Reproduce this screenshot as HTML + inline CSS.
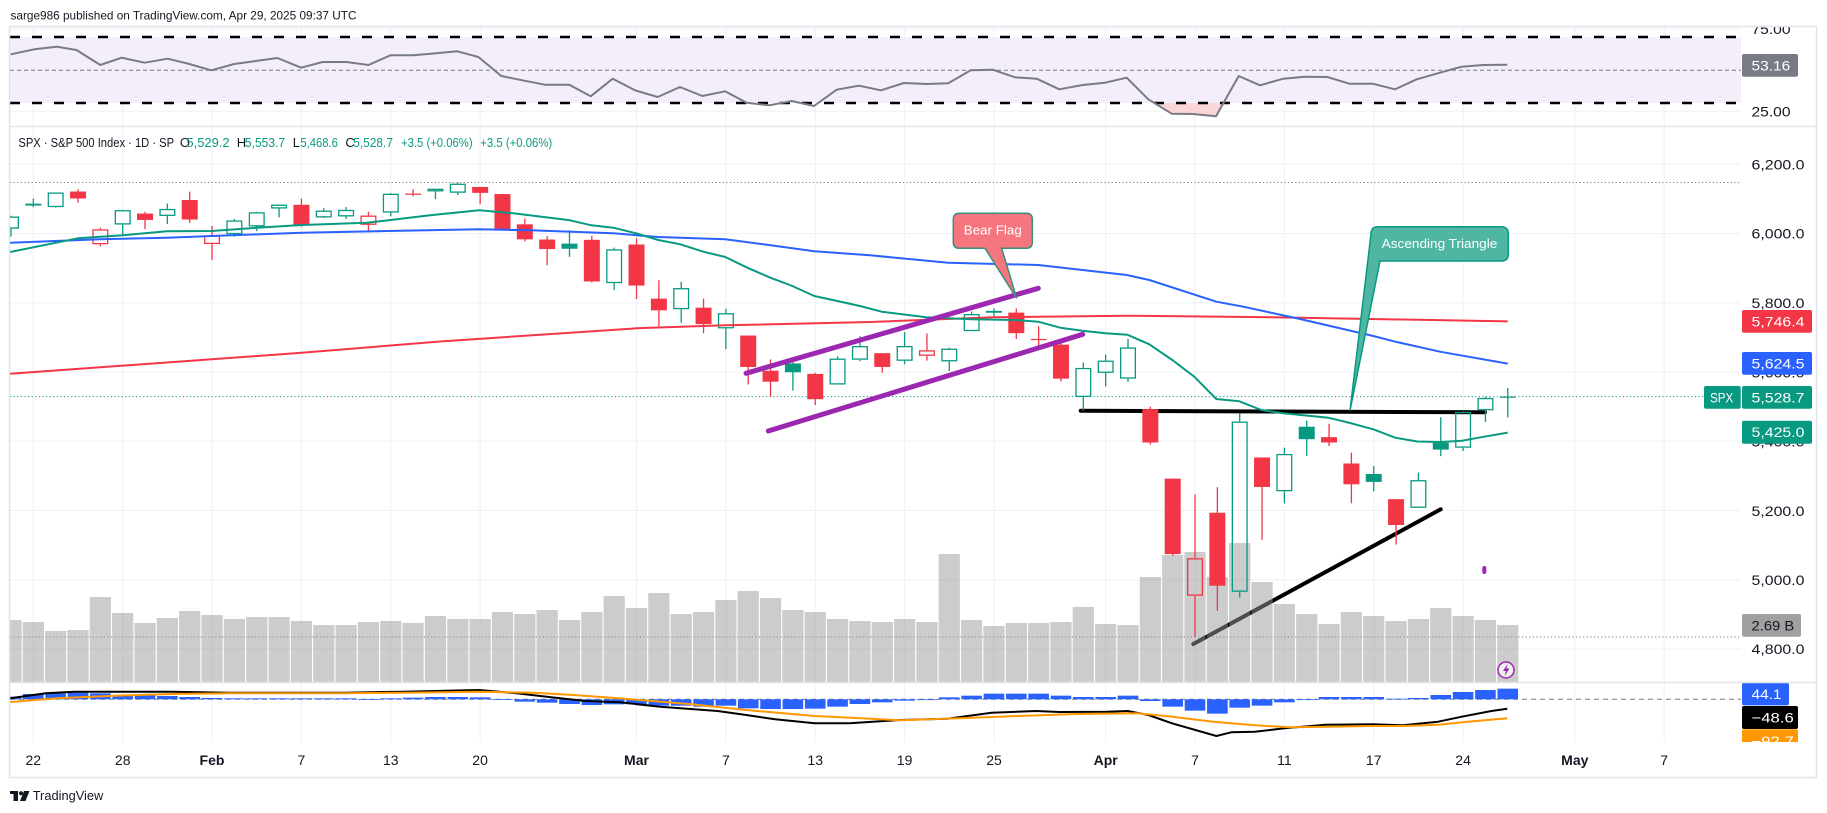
<!DOCTYPE html>
<html><head><meta charset="utf-8">
<style>
html,body{margin:0;padding:0;background:#fff;}
svg{display:block;}
text{font-family:"Liberation Sans",Arial,sans-serif;}
</style></head><body>
<svg id="c" width="1827" height="813" viewBox="0 0 1827 813" xmlns="http://www.w3.org/2000/svg">
<defs>
<clipPath id="cpP"><rect x="10" y="127" width="1731" height="555"/></clipPath>
<clipPath id="cpR"><rect x="10" y="27" width="1731" height="99"/></clipPath>
<clipPath id="cpM"><rect x="10" y="683" width="1731" height="59"/></clipPath>
<clipPath id="cpAx"><rect x="1700" y="27" width="116" height="715"/></clipPath>
</defs>
<rect width="1827" height="813" fill="#fff"/>

<!-- header -->
<text x="10.5" y="19.3" font-size="12" fill="#131722" textLength="346" lengthAdjust="spacingAndGlyphs">sarge986 published on TradingView.com, Apr 29, 2025 09:37 UTC</text>

<g id="grid"></g>

<!-- RSI pane -->
<g clip-path="url(#cpR)">
<rect x="10" y="37" width="1731" height="66" fill="#F3EEF9"/>
<polygon points="1154.3,103 1171.7,113.7 1193.3,114 1216,116.3 1223.5,103" fill="#FBD6D8"/>
<line x1="10" x2="1741" y1="37" y2="37" stroke="#000" stroke-width="2.5" stroke-dasharray="10 12"/>
<line x1="10" x2="1741" y1="103" y2="103" stroke="#000" stroke-width="2.5" stroke-dasharray="10 12"/>
<line x1="10" x2="1741" y1="70.3" y2="70.3" stroke="#787B86" stroke-width="1" stroke-dasharray="4 3"/>
<polyline fill="none" stroke="#787B86" stroke-width="2" stroke-linejoin="round" points="10.7,54.3 34.4,49.3 56.6,46.7 76.5,50 100.3,65 121.7,57.7 144.7,62.7 167.6,58.7 189.4,64 211.3,70.3 234.2,64 255.6,61 277.5,58 301.2,67.7 322.6,62 346.3,62 368.5,65 390.4,55.3 413.3,55.3 436.3,53.3 457.3,51.3 478.4,57 501.3,76 524.3,80.7 545,84.7 569.3,84.7 590.7,96.3 612.7,78.7 635,90.3 657.7,97 680,87 702.3,96 725,91.3 746.7,102.7 769.3,105.3 791.7,101 814,106 836.7,89.7 859,85.7 881,90.3 904,83 926.7,84 948.3,83.3 970.7,70.3 992.7,69.7 1015,77.3 1036.7,78.7 1059.3,89.3 1082.7,85 1105,82.7 1126.7,77.7 1148.3,99.3 1171.7,113.7 1193.3,114 1216,116.3 1238.7,76 1260,85.3 1283.3,78.7 1305,76.7 1327.3,77 1349.3,83.7 1372.7,83.7 1395,89.3 1416.7,79.3 1440,72.7 1461.7,66.7 1483.3,65 1507.3,64.7"/>
</g>

<!-- Price pane -->
<g clip-path="url(#cpP)">
<line x1="10" x2="1741" y1="182.5" y2="182.5" stroke="#787B86" stroke-width="1" stroke-dasharray="1.2 2.4"/>
<line x1="10" x2="1741" y1="637" y2="637" stroke="#787B86" stroke-width="1" stroke-dasharray="1.2 2.4"/>
<line x1="10" x2="1704" y1="396.6" y2="396.6" stroke="#089981" stroke-width="1" stroke-dasharray="1.2 2.4"/>
<!-- black drawings -->
<line x1="1080.7" y1="410.7" x2="1485" y2="412.3" stroke="#000" stroke-width="4" stroke-linecap="round"/>
<line x1="1193.3" y1="644" x2="1440.7" y2="509.3" stroke="#000" stroke-width="4" stroke-linecap="round"/>
<g id="vol"></g>
<g id="cand"></g>
<polyline fill="none" stroke="#F23645" stroke-width="2" points="10,373.7 211.7,359.3 301.7,352.7 440,341.5 636.3,328.3 725.3,325.3 870,322 993.3,317.3 1126.7,315.7 1226.7,316.7 1300,317.7 1507.7,321.4"/>
<polyline fill="none" stroke="#2962FF" stroke-width="2" stroke-linejoin="round" points="10,242.7 100,239.3 166.7,237.7 211.7,236 301.7,232.7 440,230 479.3,229.3 530,230.3 613.3,233.3 658.3,237 725.3,239.3 763.3,244.3 814.3,251.3 870,255.3 948.3,262.7 1038.3,265 1126.7,275 1149.3,280 1216.3,301.7 1243.3,306.7 1300,319 1373.3,336 1395.3,341.7 1440,351.7 1507.7,363.6"/>
<polyline fill="none" stroke="#089981" stroke-width="2" stroke-linejoin="round" points="10,252 78,238.3 122.7,235.3 166.7,231.3 211.7,231 256.7,227.7 301.7,225 366.7,222.7 390.7,220 430,215.3 479.3,210.3 513.3,213.3 570,220.3 591.3,225.3 613.3,227.7 636.3,233.3 658.3,240 680.3,244.3 703.3,251.7 725.3,257 747.3,267.7 770.3,277.7 792.3,286 814.3,296 837.3,301 860,306 881.7,311.7 926.3,317.3 971.3,319.3 1015.3,320 1038.3,321.7 1060.3,327.7 1082.3,330.7 1105.3,333.3 1127.3,334.7 1149.3,344.3 1172.3,360 1194.3,376.7 1216.3,399 1239.3,401.3 1261.3,410 1283.3,413.3 1306,415.5 1328.3,417.7 1350,423 1373.3,429.3 1395.3,437.7 1417.3,441.5 1440.3,442 1462.3,440.7 1484.3,436.7 1507.7,432.6"/>
<!-- purple flag channel -->
<line x1="746" y1="373.3" x2="1038.3" y2="288.3" stroke="#9C27B0" stroke-width="5" stroke-linecap="round"/>
<line x1="768.3" y1="431" x2="1082.7" y2="334.3" stroke="#9C27B0" stroke-width="5" stroke-linecap="round"/>
<!-- callouts -->
<path d="M959.3,213.3 H1026.3 Q1032.3,213.3 1032.3,219.3 V242.3 Q1032.3,248.3 1026.3,248.3 H1001.7 L1016.7,298.3 L985,248.3 H959.3 Q953.3,248.3 953.3,242.3 V219.3 Q953.3,213.3 959.3,213.3 Z" fill="#F5767F" stroke="#3A8E7E" stroke-width="1.5"/>
<text x="992.8" y="234.6" font-size="13" fill="#fff" text-anchor="middle" textLength="58" lengthAdjust="spacingAndGlyphs">Bear Flag</text>
<path d="M1378,226.7 H1501.3 Q1508.3,226.7 1508.3,233.7 V254 Q1508.3,261 1501.3,261 H1380 L1350,410.7 L1371,234 Q1371,226.7 1378,226.7 Z" fill="#50B6A4" stroke="#089981" stroke-width="1.5"/>
<text x="1439.5" y="247.8" font-size="13" fill="#fff" text-anchor="middle" textLength="115.6" lengthAdjust="spacingAndGlyphs">Ascending Triangle</text>
<!-- small markers -->
<rect x="1482.3" y="566" width="4" height="8" rx="2" fill="#9C27B0"/>
<circle cx="1506" cy="670" r="8" fill="#fff" fill-opacity="0.7" stroke="#9C27B0" stroke-width="1.5"/>
<path d="M1507.5,664 L1503,671 L1506,671 L1504.5,676.5 L1509.5,668.5 L1506.5,668.5 Z" fill="#9C27B0"/>
</g>

<!-- MACD pane -->
<g clip-path="url(#cpM)">
<line x1="10" x2="1741" y1="699.3" y2="699.3" stroke="#787B86" stroke-width="1" stroke-dasharray="5 4"/>
<g id="hist"></g>
<polyline fill="none" stroke="#000" stroke-width="2" stroke-linejoin="round" points="10.3,698.3 45.9,693.3 74.6,691.7 114.8,691.7 172.2,691.7 229.6,692.7 287,692.7 344.4,692.7 401.8,691.7 479.3,690 516.6,693.3 551.1,697.3 585.5,701 620,702.3 660.2,706.7 717.6,711 746.3,715 775,719.3 814.6,723.3 849.6,723.3 900,720 947.3,718.7 991.7,712.7 1036,711 1059.7,712 1107,711.7 1127.7,711 1148.4,715 1172,723.3 1216.4,736 1231.2,732.3 1254.8,731.7 1284.4,728.3 1325.8,724.7 1373.1,724.3 1402.7,725.3 1438.1,721.7 1461.8,716.7 1491.4,711 1507.3,708.7"/>
<polyline fill="none" stroke="#FF9800" stroke-width="2" stroke-linejoin="round" points="10.3,702 57.4,698.3 114.8,695.7 172.2,694 229.6,693.3 287,693.3 344.4,693.3 401.8,692.7 479.3,691.7 533.9,692.7 574,695 631.5,699.3 688.9,704 746.3,710 814.6,716 861.1,718.3 900,720.3 959.1,718.3 1018.3,716 1077.4,714 1136.5,713.3 1166.1,716 1213.4,721.7 1254.8,725.3 1290.3,727.3 1325.8,726.7 1373.1,726 1402.7,726 1438.1,724.7 1467.7,721.7 1507.3,718.3"/>
</g>

<!-- legend -->
<g font-size="13">
<text x="18.4" y="147" fill="#131722" textLength="155.7" lengthAdjust="spacingAndGlyphs">SPX · S&amp;P 500 Index · 1D · SP</text>
<text x="179.9" y="147" fill="#131722">O</text>
<text x="186.4" y="147" fill="#089981" textLength="43.2" lengthAdjust="spacingAndGlyphs">5,529.2</text>
<text x="236.8" y="147" fill="#131722">H</text>
<text x="244.9" y="147" fill="#089981" textLength="40.2" lengthAdjust="spacingAndGlyphs">5,553.7</text>
<text x="292.8" y="147" fill="#131722">L</text>
<text x="300.4" y="147" fill="#089981" textLength="37.5" lengthAdjust="spacingAndGlyphs">5,468.6</text>
<text x="345.4" y="147" fill="#131722">C</text>
<text x="353.2" y="147" fill="#089981" textLength="39.8" lengthAdjust="spacingAndGlyphs">5,528.7</text>
<text x="401" y="147" fill="#089981" textLength="71.6" lengthAdjust="spacingAndGlyphs">+3.5 (+0.06%)</text>
<text x="480.3" y="147" fill="#089981" textLength="71.9" lengthAdjust="spacingAndGlyphs">+3.5 (+0.06%)</text>
</g>

<!-- right axis labels -->
<g clip-path="url(#cpAx)" font-size="14" fill="#131722">
<text x="1751.5" y="34" textLength="39" lengthAdjust="spacingAndGlyphs">75.00</text>
<text x="1751.5" y="116.7" textLength="39" lengthAdjust="spacingAndGlyphs">25.00</text>
<text x="1751.5" y="169.3" textLength="53" lengthAdjust="spacingAndGlyphs">6,200.0</text>
<text x="1751.5" y="238.6" textLength="53" lengthAdjust="spacingAndGlyphs">6,000.0</text>
<text x="1751.5" y="307.8" textLength="53" lengthAdjust="spacingAndGlyphs">5,800.0</text>
<text x="1751.5" y="377.6" textLength="53" lengthAdjust="spacingAndGlyphs">5,600.0</text>
<text x="1751.5" y="446.7" textLength="53" lengthAdjust="spacingAndGlyphs">5,400.0</text>
<text x="1751.5" y="515.8" textLength="53" lengthAdjust="spacingAndGlyphs">5,200.0</text>
<text x="1751.5" y="585.1" textLength="53" lengthAdjust="spacingAndGlyphs">5,000.0</text>
<text x="1751.5" y="654" textLength="53" lengthAdjust="spacingAndGlyphs">4,800.0</text>

<rect x="1742" y="54" width="56" height="22.7" rx="2" fill="#787B86"/>
<text x="1751.5" y="70.4" fill="#fff" textLength="38.7" lengthAdjust="spacingAndGlyphs">53.16</text>
<rect x="1742" y="310" width="70" height="22.7" rx="2" fill="#F23645"/>
<text x="1751.5" y="326.4" fill="#fff" textLength="53" lengthAdjust="spacingAndGlyphs">5,746.4</text>
<rect x="1742" y="352" width="70" height="22.7" rx="2" fill="#2962FF"/>
<text x="1751.5" y="368.4" fill="#fff" textLength="53" lengthAdjust="spacingAndGlyphs">5,624.5</text>
<rect x="1704" y="386" width="36.7" height="22.7" rx="2" fill="#089981"/>
<text x="1710" y="402.4" fill="#fff" textLength="23.3" lengthAdjust="spacingAndGlyphs">SPX</text>
<rect x="1742" y="386" width="70" height="22.7" rx="2" fill="#089981"/>
<text x="1751.5" y="402.4" fill="#fff" textLength="53" lengthAdjust="spacingAndGlyphs">5,528.7</text>
<rect x="1742" y="420.7" width="70" height="23" rx="2" fill="#089981"/>
<text x="1751.5" y="437.2" fill="#fff" textLength="53" lengthAdjust="spacingAndGlyphs">5,425.0</text>
<rect x="1742" y="614" width="59" height="22.7" rx="2" fill="#A0A0A0"/>
<text x="1751.5" y="630.4" fill="#131722" textLength="42.7" lengthAdjust="spacingAndGlyphs">2.69 B</text>
<rect x="1742" y="682.7" width="47" height="22.7" rx="2" fill="#2962FF"/>
<text x="1751.5" y="699.1" fill="#fff" textLength="30" lengthAdjust="spacingAndGlyphs">44.1</text>
<rect x="1742" y="706" width="56" height="23" rx="2" fill="#000"/>
<text x="1751.5" y="722.5" fill="#fff" textLength="42.3" lengthAdjust="spacingAndGlyphs">−48.6</text>
<rect x="1742" y="729.3" width="56" height="23" rx="2" fill="#FF9800"/>
<text x="1751.5" y="745.8" fill="#fff" textLength="42.3" lengthAdjust="spacingAndGlyphs">−92.7</text>
</g>

<!-- time axis -->
<g font-size="14" fill="#131722" text-anchor="middle">
<text x="33.3" y="765">22</text>
<text x="122.7" y="765">28</text>
<text x="212" y="765" font-weight="bold">Feb</text>
<text x="301.4" y="765">7</text>
<text x="390.8" y="765">13</text>
<text x="480.1" y="765">20</text>
<text x="636.5" y="765" font-weight="bold">Mar</text>
<text x="725.9" y="765">7</text>
<text x="815.2" y="765">13</text>
<text x="904.6" y="765">19</text>
<text x="994" y="765">25</text>
<text x="1105.7" y="765" font-weight="bold">Apr</text>
<text x="1195" y="765">7</text>
<text x="1284.4" y="765">11</text>
<text x="1373.7" y="765">17</text>
<text x="1463.1" y="765">24</text>
<text x="1574.8" y="765" font-weight="bold">May</text>
<text x="1664.2" y="765">7</text>
</g>

<!-- frame & separators -->
<g stroke="#E0E3EB" fill="none">
<line x1="9" x2="1817" y1="26.5" y2="26.5" stroke-width="1.5"/>
<line x1="9" x2="1817" y1="126.5" y2="126.5" stroke-width="1.5"/>
<line x1="9" x2="1817" y1="682.5" y2="682.5" stroke-width="1.5"/>
<line x1="9" x2="1817" y1="777.5" y2="777.5" stroke-width="1.5"/>
<line x1="9.5" x2="9.5" y1="26" y2="778" stroke-width="1.5"/>
<line x1="1816.5" x2="1816.5" y1="26" y2="778" stroke-width="1.5"/>
</g>

<!-- footer logo -->
<g fill="#131722">
<rect x="10" y="791" width="8" height="3"/>
<rect x="13.5" y="791" width="4.5" height="10"/>
<circle cx="21" cy="793.3" r="2"/>
<polygon points="24,791 29.5,791 25.5,801 20,801"/>
<text x="32.7" y="800" font-size="13" textLength="70.6" lengthAdjust="spacingAndGlyphs">TradingView</text>
</g>
</svg>
<script>
(function(){
var NS="http://www.w3.org/2000/svg";
function el(p,t,a){var e=document.createElementNS(NS,t);for(var k in a)e.setAttribute(k,a[k]);p.appendChild(e);return e;}
function X(i){return 11+22.34*i;}
function Y(p){return 649-(p-4800)*0.34621;}
var gg=document.getElementById('grid');
[1,5,9,13,17,21,28,32,36,40,44,49,53,57,61,65,70,74].forEach(function(i){
  el(gg,'line',{x1:X(i),x2:X(i),y1:27,y2:742,stroke:'#EEF0F4','stroke-width':1});
});
for(var p=4800;p<=6200;p+=200){el(gg,'line',{x1:10,x2:1741,y1:Y(p),y2:Y(p),stroke:'#EEF0F4','stroke-width':1});}
el(gg,'line',{x1:10,x2:1741,y1:28.7,y2:28.7,stroke:'#EEF0F4','stroke-width':1});
el(gg,'line',{x1:10,x2:1741,y1:111.3,y2:111.3,stroke:'#EEF0F4','stroke-width':1});

var D=[
[6014.1,6051.5,5990.8,6049.2],[6081.4,6100.8,6076.1,6086.4],[6076.3,6118.7,6074.7,6118.7],[6121.4,6128.2,6088.7,6101.2],
[5969.0,6017.2,5962.9,6012.3],[6026.0,6069.1,5997.7,6067.7],[6057.7,6062.8,6013.0,6039.3],[6050.8,6086.6,6027.5,6071.2],
[6096.8,6120.9,6030.9,6040.5],[5969.7,6022.1,5923.9,5994.6],[5998.1,6042.5,5990.9,6037.9],[6020.5,6062.9,6007.1,6061.5],
[6072.2,6084.0,6046.8,6083.6],[6083.1,6101.3,6020.0,6026.0],[6046.4,6073.4,6044.8,6066.4],[6049.3,6076.3,6042.3,6068.5],
[6025.1,6063.0,6003.0,6052.0],[6060.6,6116.9,6050.0,6115.1],[6115.5,6127.5,6107.6,6114.6],[6121.6,6129.6,6099.5,6129.6],
[6117.8,6147.4,6111.2,6144.2],[6134.5,6134.5,6084.6,6117.5],[6114.1,6114.8,6008.6,6013.1],[6026.7,6043.7,5977.8,5983.3],
[5982.7,5992.7,5908.5,5955.3],[5970.9,6009.8,5932.7,5956.1],[5981.9,5993.7,5858.8,5861.6],[5856.7,5959.4,5837.7,5954.5],
[5968.3,5986.1,5810.9,5849.7],[5812.0,5865.1,5732.6,5778.2],[5781.4,5860.6,5742.4,5842.6],[5785.9,5812.1,5711.6,5738.5],
[5726.0,5783.0,5666.3,5770.2],[5705.4,5705.4,5564.0,5614.6],[5603.7,5636.3,5528.4,5572.1],[5624.8,5642.2,5546.1,5599.3],
[5594.5,5597.8,5504.7,5521.5],[5563.9,5645.3,5563.9,5638.9],[5635.6,5703.5,5631.1,5675.1],[5654.5,5654.5,5597.8,5614.7],
[5632.4,5715.3,5622.2,5675.3],[5646.9,5711.2,5632.9,5662.9],[5630.7,5670.8,5603.1,5667.6],[5718.1,5775.1,5718.1,5767.6],
[5776.0,5783.7,5759.6,5776.7],[5771.7,5783.6,5695.4,5712.2],[5695.6,5732.3,5670.9,5693.3],[5679.1,5685.9,5572.4,5580.9],
[5527.9,5627.6,5488.7,5611.9],[5597.5,5650.6,5558.5,5633.1],[5580.8,5695.3,5571.5,5671.0],[5492.9,5499.5,5390.8,5396.5],
[5292.1,5292.1,5069.9,5074.1],[4953.8,5246.6,4835.0,5062.3],[5193.6,5267.5,4910.4,4982.8],[4965.3,5481.3,4948.4,5456.9],
[5353.2,5353.2,5115.3,5268.1],[5255.6,5381.5,5220.8,5363.4],[5442.0,5459.5,5358.0,5406.0],[5412.0,5450.4,5386.4,5396.6],
[5335.8,5367.2,5220.8,5275.7],[5305.5,5328.3,5255.6,5282.7],[5232.9,5232.9,5101.6,5158.2],[5207.7,5309.6,5207.7,5287.8],
[5395.9,5469.7,5357.0,5375.9],[5381.4,5486.2,5372.0,5484.8],[5489.4,5528.1,5455.9,5525.2],[5529.2,5553.7,5468.6,5528.7]
];
var V=[620,622,631,630,597,613,623,618,611,615,619,617,617,621,625,625,622,621,623,616,619,619,612,614,610,620,612,596,608,593,614,612,600,591,598,610,612,619,621,622,619,622,554,620,626,623,623,622,607,624,625,577,555,552,577,543,582,604,614,624,612,616,621,619,608,616,620,625];
var H=[170,162,160,158,160,165,166,168,171,174,175,175,175,175,175,175,177,175,173,171,171,172,177,185,188,192,195,193,193,197,197,200,197,205,207,207,206,200,192,187,182,180,172,167,161,161,161,167,171,171,167,183,200,212,221,203,197,187,179,171,171,171,176,174,165,156,150,146];

var gv=document.getElementById('vol');
V.forEach(function(t,i){el(gv,'rect',{x:X(i)-10.6,y:t,width:21.2,height:682-t,fill:'#999','fill-opacity':0.5});});

var gc=document.getElementById('cand');
var G='#089981',R='#F23645',w=16;
D.forEach(function(d,i){
  var o=d[0],h=d[1],l=d[2],c=d[3];
  var pc=i?D[i-1][3]:5996.7;
  var col=c>=pc?G:R;
  var hollow=c>o;
  var x=X(i);
  var yt=Y(Math.max(o,c)), yb=Y(Math.min(o,c));
  var bh=Math.max(yb-yt,1.2);
  if(hollow){
    el(gc,'line',{x1:x,x2:x,y1:Y(h),y2:yt,stroke:col,'stroke-width':1.3});
    el(gc,'line',{x1:x,x2:x,y1:yt+bh,y2:Y(l),stroke:col,'stroke-width':1.3});
    el(gc,'rect',{x:x-w/2+0.65,y:yt+0.65,width:w-1.3,height:Math.max(bh-1.3,0.6),fill:'none',stroke:col,'stroke-width':1.3});
  } else {
    el(gc,'line',{x1:x,x2:x,y1:Y(h),y2:Y(l),stroke:col,'stroke-width':1.3});
    el(gc,'rect',{x:x-w/2,y:yt,width:w,height:bh,fill:col});
  }
});

var gh=document.getElementById('hist');
var y0=699.3;
H.forEach(function(z,i){
  var y=640+z/3;
  el(gh,'rect',{x:X(i)-10.3,y:Math.min(y,y0),width:20.6,height:Math.max(Math.abs(y-y0),0.8),fill:'#2962FF'});
});
})();
</script>
</body></html>
